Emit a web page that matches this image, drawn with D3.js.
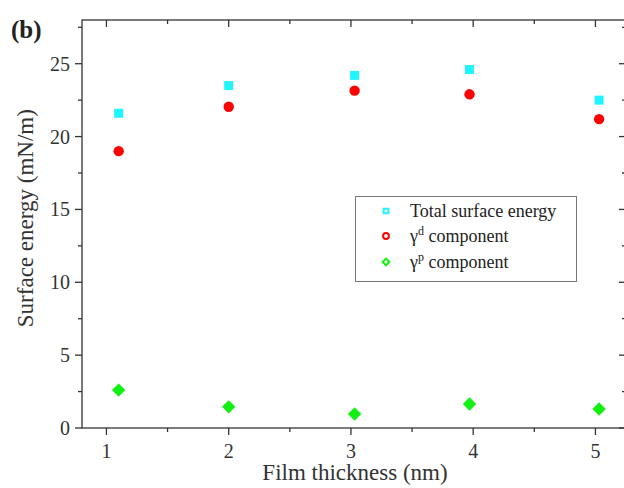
<!DOCTYPE html>
<html lang="en">
<head>
  <meta charset="UTF-8">
  <title>Surface energy vs film thickness</title>
  <script src="https://d3js.org/d3.v7.min.js"></script>
  <style>
    body
    {
      margin: 0;
      padding: 0;
      background-color: #fff;
    }

    svg
    {
      display: block;
    }
  </style>
</head>
<body>
  <svg width="624" height="488"></svg>
  <script>
    // data
    const thickness = [1.1, 2.0, 3.03, 3.97, 5.03];
    const totalEnergy = [21.6, 23.5, 24.2, 24.6, 22.5];
    const dispersive = [19.0, 22.05, 23.15, 22.9, 21.2];
    const polar = [2.6, 1.45, 0.96, 1.65, 1.3];

    const xTicks = [1, 2, 3, 4, 5];
    const yTicks = [0, 5, 10, 15, 20, 25];

    const width = 624;
    const height = 488;
    const margin = { top: 20, right: -2, bottom: 60, left: 82 };
    const axisColor = "#333";
    const serif = "'Liberation Serif', 'Times New Roman', serif";

    const svg = d3.select("svg")
      .attr("font-family", serif);

    const x = d3.scaleLinear()
      .domain([0.8, 5.25])
      .range([margin.left, width - margin.right]);

    const y = d3.scaleLinear()
      .domain([0, 28])
      .range([height - margin.bottom, margin.top]);

    const minorX = d3.range(1.5, 5.5, 1);
    const minorY = d3.range(2.5, 28, 5);

    // frame
    svg.append("rect")
      .attr("x", x.range()[0])
      .attr("y", y.range()[1])
      .attr("width", x.range()[1] - x.range()[0])
      .attr("height", y.range()[0] - y.range()[1])
      .attr("fill", "none")
      .attr("stroke", axisColor)
      .attr("stroke-width", 1.3);

    const tickG = svg.append("g")
      .attr("stroke", axisColor)
      .attr("stroke-width", 1.3);

    const y0 = y.range()[0], yTop = y.range()[1];
    const xL = x.range()[0], xR = x.range()[1];

    // bottom ticks (outward) and top ticks (inward)
    xTicks.forEach(t => {
      tickG.append("line").attr("x1", x(t)).attr("x2", x(t)).attr("y1", y0).attr("y2", y0 + 7);
      tickG.append("line").attr("x1", x(t)).attr("x2", x(t)).attr("y1", yTop).attr("y2", yTop + 7);
    });
    minorX.forEach(t => {
      tickG.append("line").attr("x1", x(t)).attr("x2", x(t)).attr("y1", y0).attr("y2", y0 + 4);
      tickG.append("line").attr("x1", x(t)).attr("x2", x(t)).attr("y1", yTop).attr("y2", yTop + 4);
    });

    // left ticks (outward) and right ticks (inward)
    yTicks.forEach(t => {
      tickG.append("line").attr("x1", xL).attr("x2", xL - 7).attr("y1", y(t)).attr("y2", y(t));
      tickG.append("line").attr("x1", xR).attr("x2", xR - 7).attr("y1", y(t)).attr("y2", y(t));
    });
    minorY.forEach(t => {
      tickG.append("line").attr("x1", xL).attr("x2", xL - 4).attr("y1", y(t)).attr("y2", y(t));
      tickG.append("line").attr("x1", xR).attr("x2", xR - 4).attr("y1", y(t)).attr("y2", y(t));
    });

    // tick labels
    svg.append("g")
      .selectAll("text")
      .data(xTicks)
      .enter()
      .append("text")
      .attr("x", d => x(d))
      .attr("y", y0 + 30)
      .attr("text-anchor", "middle")
      .attr("font-size", 20)
      .attr("fill", axisColor)
      .text(d => d);

    svg.append("g")
      .selectAll("text")
      .data(yTicks)
      .enter()
      .append("text")
      .attr("x", xL - 12)
      .attr("y", d => y(d))
      .attr("dy", "0.35em")
      .attr("text-anchor", "end")
      .attr("font-size", 20)
      .attr("fill", axisColor)
      .text(d => d);

    // axis titles
    svg.append("text")
      .attr("x", 355)
      .attr("y", 480)
      .attr("text-anchor", "middle")
      .attr("font-size", 23)
      .attr("fill", axisColor)
      .text("Film thickness (nm)");

    svg.append("text")
      .attr("transform", `translate(33, ${y(14.4)}) rotate(-90)`)
      .attr("text-anchor", "middle")
      .attr("font-size", 23)
      .attr("fill", axisColor)
      .text("Surface energy (mN/m)");

    svg.append("text")
      .attr("x", 11)
      .attr("y", 38)
      .attr("font-size", 25)
      .attr("font-weight", "bold")
      .attr("fill", "#222")
      .text("(b)");

    // series
    const series = [
      { name: "total", values: totalEnergy, color: "#1ff4ff", shape: d3.symbolSquare, size: 81, rot: 0 },
      { name: "d", values: dispersive, color: "#ff0000", shape: d3.symbolCircle, size: 85, rot: 0 },
      { name: "p", values: polar, color: "#11f011", shape: d3.symbolSquare, size: 90, rot: 45 }
    ];

    series.forEach(s => {
      svg.append("g")
        .selectAll("path")
        .data(s.values)
        .enter()
        .append("path")
        .attr("transform", (d, i) => `translate(${x(thickness[i])},${y(d)}) rotate(${s.rot})`)
        .attr("d", d3.symbol().type(s.shape).size(s.size))
        .attr("fill", s.color);
    });

    // legend
    const legend = svg.append("g");
    legend.append("rect")
      .attr("x", 355.5)
      .attr("y", 196.5)
      .attr("width", 221)
      .attr("height", 85)
      .attr("fill", "#fff")
      .attr("stroke", "#777")
      .attr("stroke-width", 1);

    const legendRows = [
      { shape: d3.symbolSquare, size: 22, rot: 0, color: "#1ff4ff", main: "Total surface energy", sup: null },
      { shape: d3.symbolCircle, size: 26, rot: 0, color: "#ff0000", main: "\u03b3", sup: "d" },
      { shape: d3.symbolSquare, size: 22, rot: 45, color: "#11f011", main: "\u03b3", sup: "p" }
    ];
    const rowY = [211, 236, 262];

    legendRows.forEach((r, i) => {
      legend.append("path")
        .attr("transform", `translate(386,${rowY[i]}) rotate(${r.rot})`)
        .attr("d", d3.symbol().type(r.shape).size(r.size))
        .attr("fill", "none")
        .attr("stroke", r.color)
        .attr("stroke-width", 2);

      const t = legend.append("text")
        .attr("x", 410)
        .attr("y", rowY[i] + 6)
        .attr("font-size", 18)
        .attr("fill", "#222");
      t.append("tspan").text(r.main);
      if (r.sup) {
        t.append("tspan").attr("dy", -7).attr("font-size", 12).text(r.sup);
        t.append("tspan").attr("dy", 7).text(" component");
      }
    });
  </script>
</body>
</html>
